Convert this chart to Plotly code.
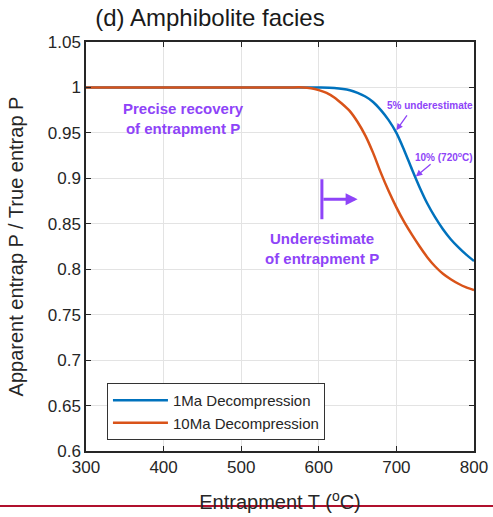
import plotly.graph_objects as go

# Data
T_1ma = [300, 400, 500, 560, 600, 620, 640, 650, 660, 670, 680, 690, 700, 710, 720, 730, 740, 750, 760, 770, 780, 790, 800]
P_1ma = [1.0, 1.0, 1.0, 1.0, 1.0, 0.9995, 0.997, 0.994, 0.990, 0.984, 0.975, 0.964, 0.950, 0.931, 0.910, 0.890, 0.872, 0.857, 0.844, 0.833, 0.824, 0.816, 0.809]
T_10ma = [300, 400, 500, 560, 580, 590, 600, 610, 620, 630, 640, 650, 660, 670, 680, 690, 700, 710, 720, 730, 740, 750, 760, 770, 780, 790, 800]
P_10ma = [1.0, 1.0, 1.0, 1.0, 1.0, 0.999, 0.997, 0.994, 0.989, 0.982, 0.974, 0.962, 0.947, 0.928, 0.906, 0.886, 0.868, 0.852, 0.838, 0.825, 0.813, 0.803, 0.795, 0.789, 0.784, 0.780, 0.777]
series_names = ["1Ma Decompression", "10Ma Decompression"]
x_ticks = [300, 400, 500, 600, 700, 800]
y_ticks = [0.6, 0.65, 0.7, 0.75, 0.8, 0.85, 0.9, 0.95, 1.0, 1.05]
y_ticklabels = ["0.6", "0.65", "0.7", "0.75", "0.8", "0.85", "0.9", "0.95", "1", "1.05"]

BLUE = "#0072BD"
ORANGE = "#D95319"
PURPLE = "#8E44F8"
FONT = "Liberation Sans, Arial, sans-serif"

fig = go.Figure()
fig.add_trace(go.Scatter(x=T_1ma, y=P_1ma, mode="lines", name=series_names[0],
                         line=dict(color=BLUE, width=2.5, shape="spline", smoothing=0.8)))
fig.add_trace(go.Scatter(x=T_10ma, y=P_10ma, mode="lines", name=series_names[1],
                         line=dict(color=ORANGE, width=2.5, shape="spline", smoothing=0.8)))

axis_common = dict(showgrid=True, gridcolor="#e3e3e3", gridwidth=1, showline=True,
                   linecolor="#262626", linewidth=1.5, mirror="ticks", ticks="inside",
                   ticklen=5, tickcolor="#262626", zeroline=False, automargin=False,
                   tickfont=dict(family=FONT, size=17, color="#262626"))

fig.update_xaxes(range=[300, 800], tickvals=x_ticks,
                 title=dict(text="Entrapment T (<sup>o</sup>C)", font=dict(family=FONT, size=20, color="#262626"),
                            standoff=19),
                 **axis_common)
fig.update_yaxes(range=[0.6, 1.05], tickvals=y_ticks, ticktext=y_ticklabels,
                 title=dict(text="Apparent entrap P / True entrap P", font=dict(family=FONT, size=20, color="#262626"),
                            standoff=19),
                 **axis_common)

annotations = [
    dict(x=425, y=0.966, text="<b>Precise recovery<br>of entrapment P</b>", font=dict(size=15, color=PURPLE, family=FONT)),
    dict(x=743, y=0.980, text="<b>5% underestimate</b>", font=dict(size=10, color=PURPLE, family=FONT)),
    dict(x=761, y=0.924, text="<b>10% (720<sup>o</sup>C)</b>", font=dict(size=10, color=PURPLE, family=FONT)),
    dict(x=604, y=0.823, text="<b>Underestimate<br>of entrapment P</b>", font=dict(size=15, color=PURPLE, family=FONT)),
]
for a in annotations:
    fig.add_annotation(xref="x", yref="y", showarrow=False, align="center", **a)

# arrows
fig.add_annotation(x=700, y=0.953, ax=715, ay=0.971, xref="x", yref="y", axref="x", ayref="y",
                   text="", showarrow=True, arrowhead=2, arrowsize=1, arrowwidth=1.3, arrowcolor=PURPLE)
fig.add_annotation(x=725, y=0.902, ax=746, ay=0.917, xref="x", yref="y", axref="x", ayref="y",
                   text="", showarrow=True, arrowhead=2, arrowsize=1, arrowwidth=1.3, arrowcolor=PURPLE)
fig.add_annotation(x=650, y=0.877, ax=604, ay=0.877, xref="x", yref="y", axref="x", ayref="y",
                   text="", showarrow=True, arrowhead=2, arrowsize=0.8, arrowwidth=3, arrowcolor=PURPLE)
fig.add_shape(type="line", x0=604, x1=604, y0=0.855, y1=0.899, xref="x", yref="y",
              line=dict(color=PURPLE, width=3))

# slide underline
fig.add_shape(type="line", xref="paper", yref="paper", x0=-0.23, x1=1.06, y0=-0.1345, y1=-0.1345,
              line=dict(color="#B0102D", width=2), layer="above")

fig.update_layout(
    width=493, height=517,
    margin=dict(l=86, r=19, t=42, b=66),
    paper_bgcolor="white", plot_bgcolor="white",
    title=dict(text="(d) Amphibolite facies", x=210 / 493, xanchor="center", y=1 - 18 / 517, yanchor="middle",
               font=dict(family=FONT, size=24, color="#1a1a1a")),
    showlegend=True,
    legend=dict(x=0.054, y=0.166, xanchor="left", yanchor="top", bgcolor="white",
                bordercolor="#333333", borderwidth=1, font=dict(family=FONT, size=15, color="#262626"),
                tracegroupgap=0, itemwidth=55),
)

fig.write_html("out.html")
